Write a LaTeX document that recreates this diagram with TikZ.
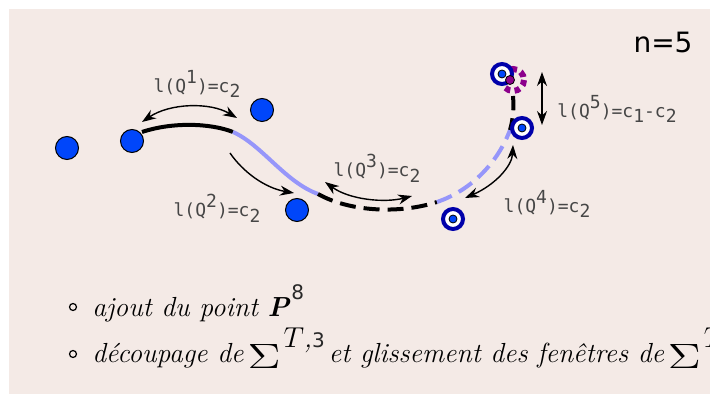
\documentclass[tikz,border=0pt]{standalone}
\usepackage{fontspec}
\newfontfamily\labelfont{DejaVu Sans Mono}
\newfontfamily\headfont{DejaVu Sans}
\usetikzlibrary{arrows.meta}
\definecolor{bg}{RGB}{244,234,230}
\definecolor{ptblue}{RGB}{0,70,250}
\definecolor{ringblue}{RGB}{0,0,170}
\definecolor{paleblue}{RGB}{150,150,250}
\definecolor{plum}{RGB}{140,0,140}
\definecolor{labelgray}{RGB}{70,70,70}
\definecolor{supgray}{RGB}{40,40,40}
\newcommand{\up}[1]{\raisebox{0.95ex}{#1}}
\newcommand{\dn}[1]{\raisebox{-0.55ex}{#1}}
\newcommand{\bigsum}{\raisebox{-2.5pt}{\resizebox{16.5pt}{12pt}{$\Sigma$}}}
\newcommand{\supnum}[1]{{\upshape\headfont\color{supgray}\fontsize{10}{11}\selectfont #1}}
\begin{document}
\begin{tikzpicture}[x=0.5pt,y=-0.5pt,
  dot/.style={circle,draw=black,line width=0.5pt,fill=ptblue,inner sep=0pt,minimum size=11.5pt},
  ring/.style={circle,draw=ringblue,line width=2pt,fill=white,inner sep=0pt,minimum size=10pt},
  core/.style={circle,draw=black,line width=0.4pt,fill=ptblue,inner sep=0pt,minimum size=4pt},
  lab/.style={text=labelgray,font=\labelfont\fontsize{9}{10}\selectfont,inner sep=0pt},
  curve/.style={line width=2pt},
  dashcurve/.style={line width=2pt,dash pattern=on 8pt off 4pt},
  link/.style={line width=0.7pt,-{Stealth[length=7pt,width=5pt]}},
  twoway/.style={line width=0.7pt,{Stealth[length=7pt,width=5pt]}-{Stealth[length=7pt,width=5pt]}},
  bul/.style={circle,draw=black,line width=0.6pt,inner sep=0pt,minimum size=3.5pt},
  txt/.style={anchor=base west,inner sep=0pt,font=\fontsize{13.8}{16}\selectfont\itshape}
]
\useasboundingbox (0,0) rectangle (710,394);
\fill[bg] (9,9) rectangle (710,394);

% path of the window through the points
\coordinate (c0) at (142,132);
\coordinate (c1) at (233,132);
\coordinate (c2) at (318,194);
\coordinate (c3) at (437,202);
\coordinate (c4) at (510,130);
\coordinate (c5) at (513,96);
\draw[curve] (c0) .. controls (172,122) and (210,123) .. (c1);
\draw[curve,paleblue] (c1) .. controls (262,145) and (285,182) .. (c2);
\draw[dashcurve] (c2) .. controls (350,212) and (400,214) .. (c3);
\draw[dashcurve,paleblue] (c3) .. controls (472,190) and (498,162) .. (c4);
\draw[dashcurve,dash phase=2pt] (c4) .. controls (513,120) and (514,108) .. (c5);

% fixed points
\node[dot] (p1) at (67,148) {};
\node[dot] (p2) at (132,141) {};
\node[dot] (p3) at (262,110) {};
\node[dot] (p4) at (297,210) {};

% points of the new window
\draw[plum,line width=3pt,dash pattern=on 2.8pt off 2.2pt] (513,80) circle (11);
\node[ring] (r1) at (453,219) {};
\node[core] at (r1) {};
\node[ring] (r2) at (522,128) {};
\node[core] at (r2) {};
\node[ring] (r3) at (502,74) {};
\node[core] at (r3) {};
\node[circle,draw=black,line width=0.4pt,fill=plum,inner sep=0pt,minimum size=4.5pt] (p8) at (510,80) {};

% window lengths
\coordinate (a1s) at (142,122); \coordinate (a1e) at (237,118);
\draw[twoway] (a1s) .. controls (170,103) and (210,102) .. (a1e);
\coordinate (a2s) at (230,153); \coordinate (a2e) at (294,193);
\draw[link] (a2s) .. controls (243,172) and (265,188) .. (a2e);
\coordinate (a3s) at (325,182); \coordinate (a3e) at (412,196);
\draw[twoway] (a3s) .. controls (350,200) and (385,203) .. (a3e);
\coordinate (a4s) at (465,198); \coordinate (a4e) at (513,145);
\draw[twoway] (a4s) .. controls (495,185) and (512,166) .. (a4e);
\coordinate (a5s) at (542,72); \coordinate (a5e) at (542,125);
\draw[twoway] (a5s) -- (a5e);

\node[lab] (l1) at (197,84) {l(Q\up{1})=c\dn{2}};
\node[lab] (l2) at (217,208) {l(Q\up{2})=c\dn{2}};
\node[lab] (l3) at (377,168) {l(Q\up{3})=c\dn{2}};
\node[lab] (l4) at (547,204) {l(Q\up{4})=c\dn{2}};
\node[lab] (l5) at (617,109) {l(Q\up{5})=c\dn{1}-c\dn{2}};

\node[font=\headfont\fontsize{14}{16}\selectfont,inner sep=0pt] (n) at (663,42) {n=5};

% comments under the figure
\node[bul] (b1) at (73,307) {};
\node[txt] (t1) at (92,317) {ajout du point \textbf{P}\kern1pt\raisebox{8.5pt}{\supnum{8}}};
\node[bul] (b2) at (73,354) {};
\node[txt] (t2) at (92,363) {découpage de\kern2pt\bigsum\kern1.5pt\raisebox{7.5pt}{$T$,\supnum{3}}\kern2pt et glissement des fenêtres de\kern2pt\bigsum\kern1.5pt\raisebox{7.5pt}{$T$}};
\end{tikzpicture}
\end{document}
